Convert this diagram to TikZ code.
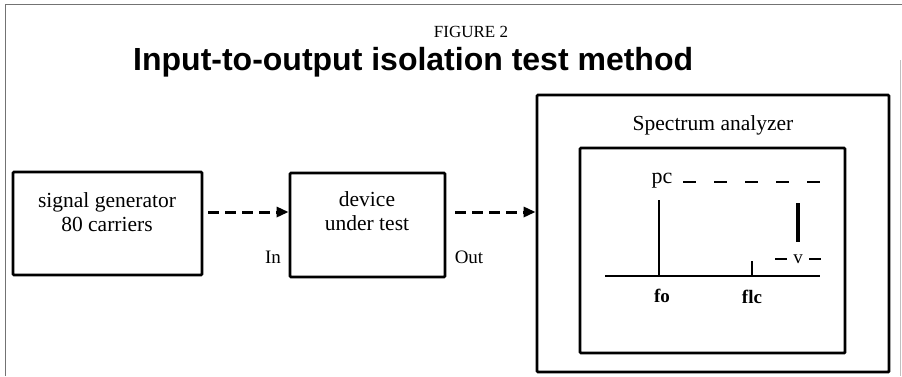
\documentclass[tikz,border=0pt]{standalone}
\usepackage{fontspec}
\setmainfont{Liberation Serif}
\newfontfamily\titlefont{Liberation Sans}
\usetikzlibrary{arrows.meta,calc}
\begin{document}
\begin{tikzpicture}[x=1pt,y=-1pt,
  boxx/.style={draw,line width=2.8pt,rounded corners=1pt,inner sep=0pt},
  lbl/.style={font=\fontsize{21.5}{24}\selectfont,align=center,inner sep=0pt},
  small/.style={font=\fontsize{19}{22}\selectfont,inner sep=0pt},
  arr/.style={line width=3pt,dash pattern=on 11pt off 6pt,-{Triangle[length=12pt,width=10pt]}},
  trace/.style={line width=2.8pt},
  freq/.style={font=\bfseries\fontsize{19}{21}\selectfont,inner sep=0pt},
  frame/.style={draw=black!55,line width=0.9pt}]
\useasboundingbox (0,0) rectangle (902,376);
% outer frame
\draw[frame] (5,376) -- (5,4) -- (902,4);
\draw[draw=black!25,line width=0.8pt] (900,60) -- (900,376);
% titles
\node[font=\fontsize{17}{19}\selectfont,inner sep=0pt] (fig) at (471,32) {FIGURE 2};
\node[font=\titlefont\bfseries\fontsize{32}{36}\selectfont,anchor=base west,inner sep=0pt] (title) at (133,70) {Input-to-output isolation test method};
% blocks
\node[boxx,minimum width=189pt,minimum height=103pt] (sg) at (107.5,223.5) {};
\node[lbl] (sgt) at (107,212) {signal generator\\80 carriers};
\node[boxx,minimum width=155pt,minimum height=104pt] (dut) at (367.5,225) {};
\node[lbl] (dutt) at (367,211) {device\\under test};
\node[boxx,minimum width=352pt,minimum height=277pt] (sa) at (713,233.5) {};
\node[lbl] (sat) at (713,125) {Spectrum analyzer};
\node[boxx,minimum width=265pt,minimum height=205pt] (scr) at (712.5,250.5) {};
% connectors
\coordinate (a1) at (208,212);
\coordinate (a2) at (455,212);
\draw[arr] (a1) -- (dut.west |- a1);
\draw[arr] (a2) -- (sa.west |- a2);
\node[small] (in) at (273,257) {In};
\node[small] (out) at (469,257) {Out};
% spectrum display
\node[font=\fontsize{22}{24}\selectfont,inner sep=0pt] (pc) at (662,181) {pc};
\coordinate (pcend) at (822,182);
\draw[trace,dash pattern=on 13pt off 18pt] (683,182) -- (pcend);
\coordinate (bl) at (605,276);
\coordinate (br) at (820,276);
\draw[trace] (bl) -- (br);
\coordinate (fotop) at (659,200);
\draw[trace] (fotop) -- (fotop |- bl);
\coordinate (flctop) at (752,261);
\draw[trace,line width=2.2pt] (flctop) -- (flctop |- bl);
\coordinate (vt) at (798,203);
\coordinate (vb) at (798,242);
\draw[line width=3.2pt] (vt) -- (vb);
\node[font=\fontsize{19}{21}\selectfont,inner sep=0pt] (v) at (798,259) {v};
\draw[trace] (775,259) -- (787,259);
\draw[trace] (809,259) -- (821,259);
\node[freq] (fo) at (662,296) {fo};
\node[freq] (flc) at (752,297) {flc};
\end{tikzpicture}
\end{document}
